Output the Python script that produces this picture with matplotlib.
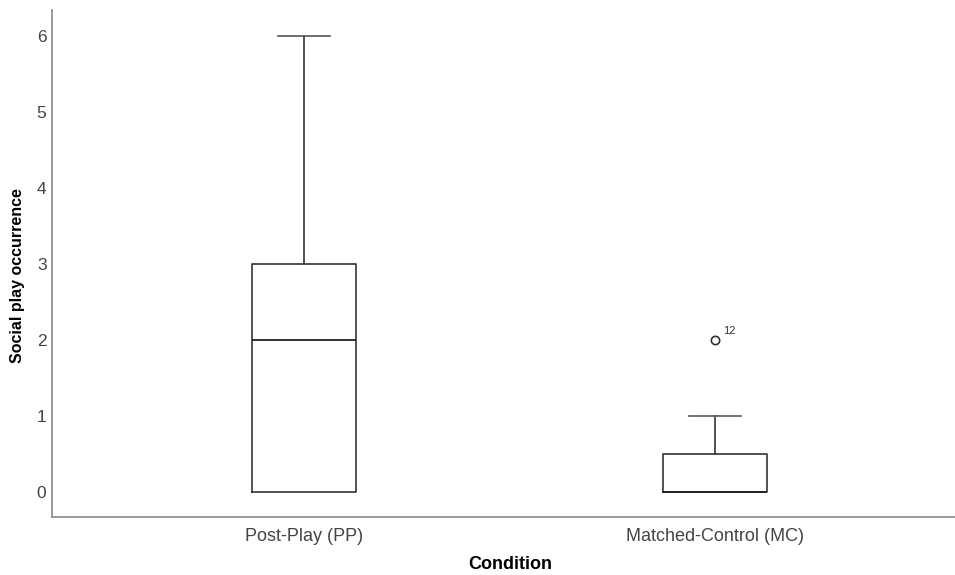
import matplotlib.pyplot as plt

plt.rcParams['font.family'] = ['Liberation Sans', 'DejaVu Sans']

conditions = ['Post-Play (PP)', 'Matched-Control (MC)']
whislo = [0, 0]
q1 = [0, 0]
med = [2, 0]
q3 = [3, 0.5]
whishi = [6, 1]
fliers = [[], [2]]
flier_ids = [[], ['12']]

stats = []
for i, name in enumerate(conditions):
    stats.append({'label': name, 'whislo': whislo[i], 'q1': q1[i], 'med': med[i],
                  'q3': q3[i], 'whishi': whishi[i], 'fliers': fliers[i]})

fig = plt.figure(figsize=(9.55, 5.75), dpi=100)
ax = fig.add_axes([0.0545, 0.1009, 0.9455, 0.8817])

ax.bxp(stats, positions=[1, 2], widths=0.253, showfliers=True,
       boxprops=dict(color='#333333', linewidth=1.2),
       medianprops=dict(color='#222222', linewidth=1.3),
       whiskerprops=dict(color='#333333', linewidth=1.2),
       capprops=dict(color='#555555', linewidth=1.2),
       flierprops=dict(marker='o', markerfacecolor='white', markeredgecolor='#333333',
                       markersize=6, markeredgewidth=1.2))

for i, ids in enumerate(flier_ids):
    for v, lab in zip(fliers[i], ids):
        ax.annotate(lab, (i + 1, v), xytext=(6, 4), textcoords='offset points',
                    fontsize=8, color='#333333')

ax.set_xlim(0.387, 2.584)
ax.set_ylim(-0.33, 6.34)
ax.set_yticks(range(7))
ax.tick_params(axis='both', length=0, labelcolor='#444444')
ax.tick_params(axis='y', pad=4, labelsize=12.5)
ax.tick_params(axis='x', pad=8, labelsize=13)

for s in ['top', 'right']:
    ax.spines[s].set_visible(False)
for s in ['left', 'bottom']:
    ax.spines[s].set_color('#888888')
    ax.spines[s].set_linewidth(1.2)

ax.set_xlabel('Condition', fontsize=13, fontweight='bold')
ax.set_ylabel('Social play occurrence', fontsize=11.5, fontweight='bold')
ax.xaxis.set_label_coords(0.507, -0.077)
ax.yaxis.set_label_coords(-0.030, 0.477)

fig.savefig('out.png', dpi=100)
